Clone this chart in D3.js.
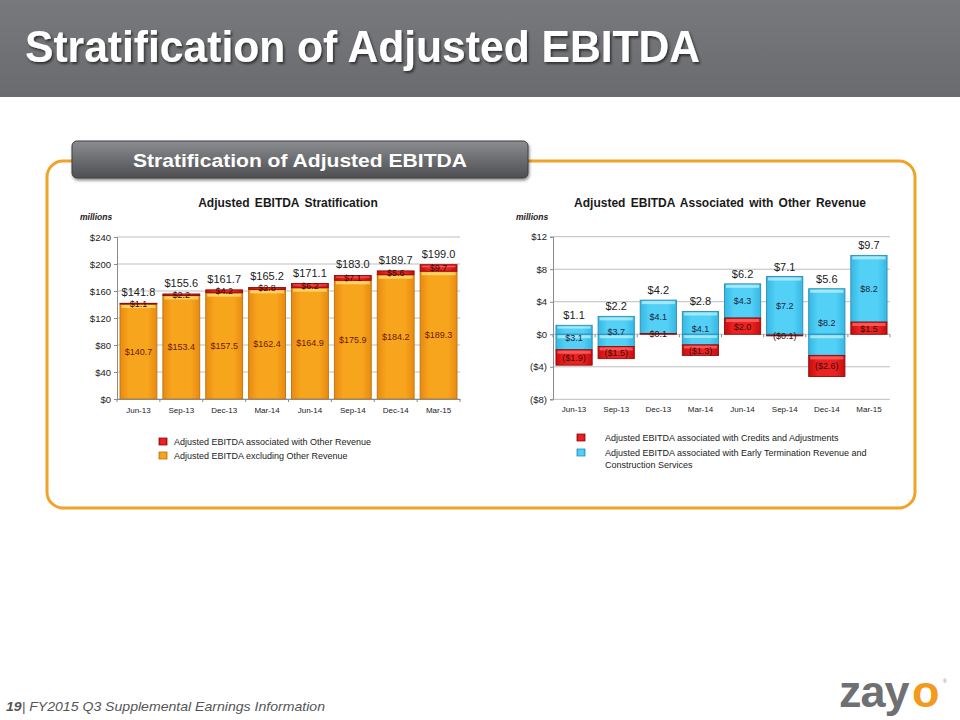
<!DOCTYPE html>
<html><head><meta charset="utf-8">
<script src="https://cdn.jsdelivr.net/npm/d3@7"></script>
<style>body{margin:0;background:#fff}svg{display:block}</style>
</head><body>
<svg id="c" width="960" height="720"></svg>
<script>
// ---------- data ----------
const quarters = ["Jun-13","Sep-13","Dec-13","Mar-14","Jun-14","Sep-14","Dec-14","Mar-15"];
const exclOther = [140.7,153.4,157.5,162.4,164.9,175.9,184.2,189.3];
const otherRev = [1.1,2.2,4.2,2.8,6.2,7.1,5.6,9.7];
const totalEbitda = [141.8,155.6,161.7,165.2,171.1,183.0,189.7,199.0];
const earlyTerm = [3.1,3.7,4.1,4.1,4.3,7.2,8.2,8.2];
const credits = [-1.9,-1.5,0.1,-1.3,2.0,-0.1,-2.6,1.5];
const otherTotal = [1.1,2.2,4.2,2.8,6.2,7.1,5.6,9.7];
const leftTicks = [0,40,80,120,160,200,240];
const rightTicks = [-8,-4,0,4,8,12];

const money = v => v < 0 ? "($" + Math.abs(v).toFixed(1) + ")" : "$" + v.toFixed(1);
const tickFmt = v => v < 0 ? "($" + Math.abs(v) + ")" : "$" + v;

const svg = d3.select("#c");
const defs = svg.append("defs");
function hGrad(id, edge, mid){
  const g = defs.append("linearGradient").attr("id", id).attr("x1","0").attr("x2","1").attr("y1","0").attr("y2","0");
  g.append("stop").attr("offset","0%").attr("stop-color", edge);
  g.append("stop").attr("offset","25%").attr("stop-color", mid);
  g.append("stop").attr("offset","75%").attr("stop-color", mid);
  g.append("stop").attr("offset","100%").attr("stop-color", edge);
}
hGrad("gOrange","#e98a10","#f8a51e");
hGrad("gRed","#c50c0c","#ec2222");
hGrad("gBlue","#35b8e4","#52d0f6");
function vGrad(id, stops){
  const g = defs.append("linearGradient").attr("id", id).attr("x1","0").attr("x2","0").attr("y1","0").attr("y2","1");
  stops.forEach(s => g.append("stop").attr("offset", s[0]).attr("stop-color", s[1]).attr("stop-opacity", s[2]));
}
vGrad("gHead", [["0%","#78797c",1],["100%","#6a6b6e",1]]);
vGrad("gPill", [["0%","#8c8d90",1],["50%","#6c6d70",1],["100%","#4e4f52",1]]);
const sh = defs.append("filter").attr("id","shadow").attr("x","-5%").attr("y","-20%").attr("width","110%").attr("height","150%");
sh.append("feDropShadow").attr("dx",1.5).attr("dy",2).attr("stdDeviation",1.2).attr("flood-color","#222").attr("flood-opacity",0.8);
const sh2 = defs.append("filter").attr("id","shadow2").attr("x","-5%").attr("y","-20%").attr("width","110%").attr("height","160%");
sh2.append("feDropShadow").attr("dx",1).attr("dy",2).attr("stdDeviation",1.5).attr("flood-color","#000").attr("flood-opacity",0.45);

// ---------- header ----------
svg.append("rect").attr("x",0).attr("y",0).attr("width",960).attr("height",97).attr("fill","url(#gHead)");
svg.append("text").attr("x",25).attr("y",62)
  .attr("font-family","'Liberation Sans Narrow','Liberation Sans',Arial,sans-serif")
  .attr("font-weight","bold").attr("font-size",44).attr("fill","#fff")
  .attr("textLength",675).attr("lengthAdjust","spacingAndGlyphs")
  .attr("filter","url(#shadow)")
  .text("Stratification of Adjusted EBITDA");

// ---------- frame ----------
svg.append("rect").attr("x",47).attr("y",161).attr("width",868).attr("height",347).attr("rx",16)
  .attr("fill","none").attr("stroke","#f0a229").attr("stroke-width",3);
svg.append("rect").attr("x",72).attr("y",141).attr("width",456).attr("height",37).attr("rx",5)
  .attr("fill","url(#gPill)").attr("stroke","#3e3f42").attr("stroke-width",1).attr("filter","url(#shadow2)");
svg.append("text").attr("x",300).attr("y",167).attr("text-anchor","middle")
  .attr("font-family","'Liberation Sans',Arial,sans-serif").attr("font-weight","bold").attr("font-size",19)
  .attr("fill","#fff").attr("textLength",334).attr("lengthAdjust","spacingAndGlyphs")
  .text("Stratification  of Adjusted EBITDA");

const FONT = "'Liberation Sans',Arial,sans-serif";

function chartFrame(x, y, ticks, titleText, titleX, millionsX){
  const g = svg.append("g");
  g.append("text").attr("x",titleX).attr("y",207).attr("text-anchor","middle")
    .attr("font-family",FONT).attr("font-weight","bold").attr("font-size",12).attr("fill","#1a1a1a")
    .attr("word-spacing",2).text(titleText);
  g.append("text").attr("x",millionsX).attr("y",220)
    .attr("font-family",FONT).attr("font-weight","bold").attr("font-style","italic").attr("font-size",8.5).attr("fill","#1a1a1a")
    .text("millions");
  const [x0,x1] = x.range();
  g.selectAll(".grid").data(ticks).join("line")
    .attr("x1",x0).attr("x2",x1).attr("y1",d=>y(d)).attr("y2",d=>y(d))
    .attr("stroke","#bdbdbd").attr("stroke-width",1);
  const ya = d3.axisLeft(y).tickValues(ticks).tickFormat(tickFmt).tickSize(3).tickPadding(3);
  const ag = g.append("g").attr("transform",`translate(${x0},0)`).call(ya);
  ag.select(".domain").attr("stroke","#8a8a8a");
  ag.selectAll(".tick line").attr("stroke","#8a8a8a");
  ag.selectAll("text").attr("font-family",FONT).attr("font-size",9.5).attr("fill","#222");
  return g;
}

// ---------- left chart ----------
const xL = d3.scaleBand().domain(quarters).range([117,460]).paddingInner(0.14).paddingOuter(0.07);
const yL = d3.scaleLinear().domain([0,240]).range([399,237]);
const gL = chartFrame(xL, yL, leftTicks, "Adjusted EBITDA  Stratification", 288, 80);

function drawBar(g, x0, w, yTop, yBot, fill, stroke, hl){
  if (yBot - yTop < 0.3) yBot = yTop + 0.3;
  g.append("rect").attr("x",x0).attr("y",yTop).attr("width",w).attr("height",yBot-yTop)
    .attr("fill",fill).attr("stroke",stroke).attr("stroke-width",0.9);
  if (yBot - yTop > 4) {
    g.append("rect").attr("x",x0+1.5).attr("y",yTop+1).attr("width",w-3).attr("height",Math.min(3,(yBot-yTop)/4))
      .attr("fill",hl).attr("opacity",0.75);
  }
}

const bw = xL.bandwidth();
quarters.forEach((q,i) => {
  const bx = xL(q);
  drawBar(gL, bx, bw, yL(exclOther[i]), yL(0), "url(#gOrange)", "#b8730f", "#ffe27a");
  drawBar(gL, bx, bw, yL(exclOther[i]+otherRev[i]), yL(exclOther[i]), "url(#gRed)", "#8e0c0c", "#ff6b6b");
  gL.append("text").attr("x",bx+bw/2).attr("y",yL(exclOther[i]/2)+3).attr("text-anchor","middle")
    .attr("font-family",FONT).attr("font-size",9).attr("fill","#6b1a00").text(money(exclOther[i]));
  gL.append("text").attr("x",bx+bw/2).attr("y",yL(exclOther[i]+otherRev[i]/2)+3).attr("text-anchor","middle")
    .attr("font-family",FONT).attr("font-size",9).attr("fill","#3a0a00").text(money(otherRev[i]));
  gL.append("text").attr("x",bx+bw/2).attr("y",yL(totalEbitda[i])-7).attr("text-anchor","middle")
    .attr("font-family",FONT).attr("font-size",11).attr("fill","#1a1a1a").text(money(totalEbitda[i]));
});
const xaL = d3.axisBottom(xL).tickSize(0).tickPadding(8);
const xgL = gL.append("g").attr("transform",`translate(0,${yL(0)})`).call(xaL);
xgL.select(".domain").attr("stroke","#8a8a8a");
xgL.selectAll("text").attr("font-family",FONT).attr("font-size",8).attr("fill","#222");
gL.selectAll(".xtick").data(d3.range(quarters.length+1)).join("line")
  .attr("x1",i=>117 + i*xL.step()).attr("x2",i=>117 + i*xL.step())
  .attr("y1",yL(0)).attr("y2",yL(0)+3).attr("stroke","#8a8a8a");

// ---------- right chart ----------
const xR = d3.scaleBand().domain(quarters).range([553,890]).paddingInner(0.14).paddingOuter(0.07);
const yR = d3.scaleLinear().domain([-8,12]).range([399.3,236.7]);
const gR = chartFrame(xR, yR, rightTicks, "Adjusted EBITDA  Associated  with  Other Revenue", 720, 516);
const bwR = xR.bandwidth();
quarters.forEach((q,i) => {
  const bx = xR(q);
  const r = credits[i], b = earlyTerm[i];
  const lo = r, hi = otherTotal[i];
  // red segment: positive sits on zero, negative hangs below the blue base
  const rTop = r, rBot = r >= 0 ? 0 : r + r;
  if (lo < 0 && hi > 0) {
    drawBar(gR, bx, bwR, yR(hi), yR(0), "url(#gBlue)", "#2a8db5", "#bff0fc");
    drawBar(gR, bx, bwR, yR(0), yR(lo), "url(#gBlue)", "#2a8db5", "#bff0fc");
  } else {
    drawBar(gR, bx, bwR, yR(hi), yR(lo), "url(#gBlue)", "#2a8db5", "#bff0fc");
  }
  drawBar(gR, bx, bwR, yR(rTop), yR(rBot), "url(#gRed)", "#8e0c0c", "#ff6b6b");
  gR.append("text").attr("x",bx+bwR/2).attr("y",yR((lo+hi)/2)+3.5).attr("text-anchor","middle")
    .attr("font-family",FONT).attr("font-size",9).attr("fill","#1b2440").text(money(b));
  gR.append("text").attr("x",bx+bwR/2).attr("y",yR((rTop+rBot)/2)+3.5).attr("text-anchor","middle")
    .attr("font-family",FONT).attr("font-size",9).attr("fill","#3a0a00").text(money(r));
  gR.append("text").attr("x",bx+bwR/2).attr("y",yR(hi)-6).attr("text-anchor","middle")
    .attr("font-family",FONT).attr("font-size",11).attr("fill","#1a1a1a").text(money(hi));
});
gR.selectAll(".xtick").data(d3.range(quarters.length+1)).join("line")
  .attr("x1",i=>553 + i*xR.step()).attr("x2",i=>553 + i*xR.step())
  .attr("y1",yR(0)).attr("y2",yR(0)+3).attr("stroke","#8a8a8a");
const xaR = d3.axisBottom(xR).tickSize(0).tickPadding(7);
const xgR = gR.append("g").attr("transform",`translate(0,${yR(-8)})`).call(xaR);
xgR.select(".domain").remove();
xgR.selectAll("text").attr("font-family",FONT).attr("font-size",8).attr("fill","#222");

// ---------- legends ----------
function legendItem(x, y, fill, stroke, lines, tx){
  svg.append("rect").attr("x",x).attr("y",y-4).attr("width",8).attr("height",7)
    .attr("fill",fill).attr("stroke",stroke).attr("stroke-width",0.8);
  lines.forEach((t,k) => svg.append("text").attr("x",tx).attr("y",y+3+k*11.5)
    .attr("font-family",FONT).attr("font-size",9).attr("fill","#222").text(t));
}
legendItem(159, 442, "url(#gRed)", "#8e0c0c", ["Adjusted EBITDA associated with Other Revenue"], 174);
legendItem(159, 456, "url(#gOrange)", "#b8730f", ["Adjusted EBITDA excluding Other Revenue"], 174);
legendItem(577, 438, "url(#gRed)", "#8e0c0c", ["Adjusted EBITDA associated with Credits and  Adjustments"], 605);
legendItem(577, 453, "url(#gBlue)", "#2a8db5", ["Adjusted EBITDA associated with Early Termination  Revenue and","Construction Services"], 605);

// ---------- footer ----------
const ft = svg.append("text").attr("x",6).attr("y",711)
  .attr("font-family","'Liberation Sans Narrow','Liberation Sans',Arial,sans-serif")
  .attr("font-style","italic").attr("font-size",13).attr("fill","#555")
  .attr("textLength",319).attr("lengthAdjust","spacingAndGlyphs");
ft.append("tspan").attr("font-weight","bold").text("19");
ft.append("tspan").text("| FY2015 Q3 Supplemental Earnings Information");

svg.append("text").attr("x",839).attr("y",707)
  .attr("font-family",FONT).attr("font-weight","bold").attr("font-size",45).attr("fill","#6f7073")
  .attr("letter-spacing",-1).text("zay");
svg.append("text").attr("x",912).attr("y",707)
  .attr("font-family",FONT).attr("font-weight","bold").attr("font-size",45).attr("fill","#f39a1e")
  .text("o");
svg.append("text").attr("x",943).attr("y",683).attr("font-family",FONT).attr("font-size",5).attr("fill","#888").text("®");
</script>
</body></html>
